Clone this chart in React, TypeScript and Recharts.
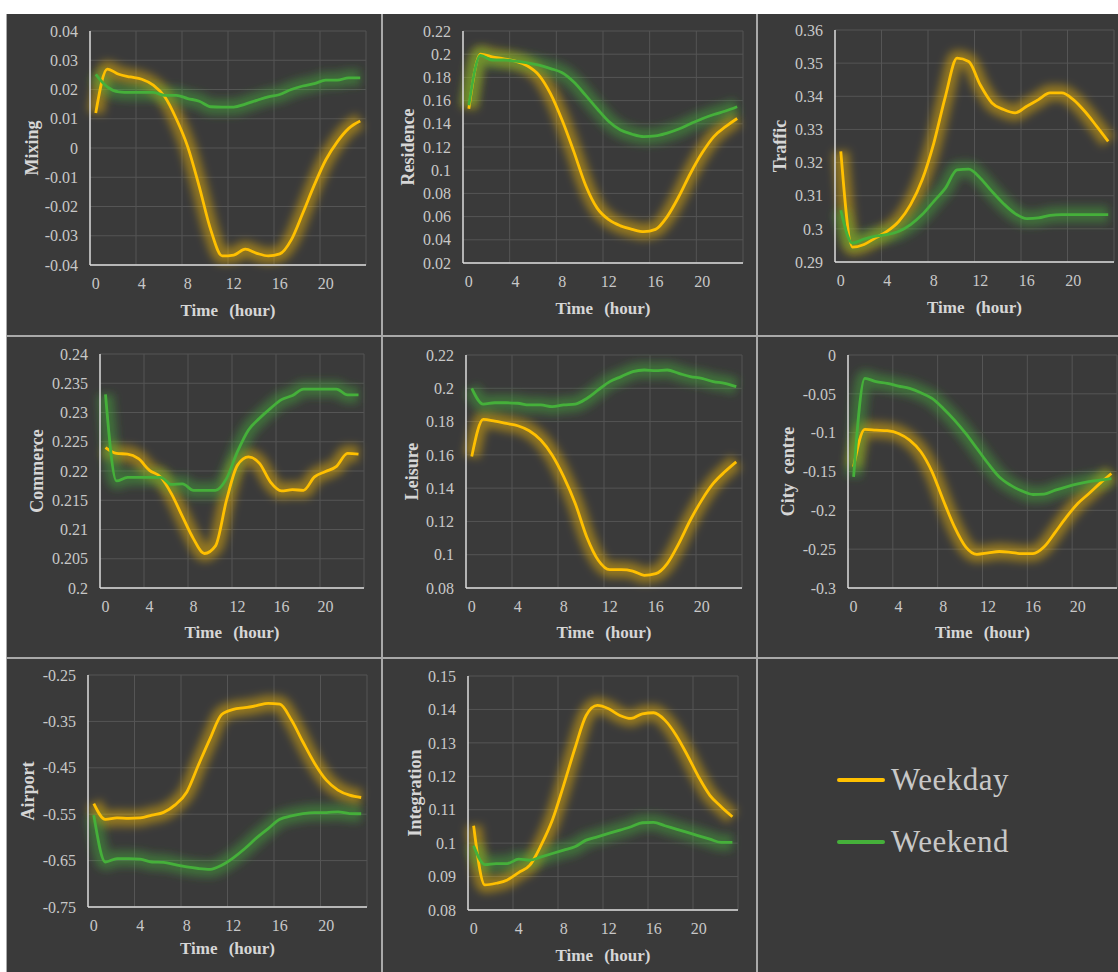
import { LineChart, Line, XAxis, YAxis, CartesianGrid } from 'recharts';

const hours = [0, 1, 2, 3, 4, 5, 6, 7, 8, 9, 10, 11, 12, 13, 14, 15, 16, 17, 18, 19, 20, 21, 22, 23];
const xTicks = [0, 4, 8, 12, 16, 20];
// category boundaries (Excel draws gridlines between categories)
const xGridBounds = [3.5, 7.5, 11.5, 15.5, 19.5, 23.5];

const mixingWeekday = [0.012, 0.027, 0.0252, 0.0243, 0.0235, 0.0215, 0.0175, 0.01, 0.0004, -0.0132, -0.028, -0.0369, -0.0366, -0.0346, -0.036, -0.0369, -0.0362, -0.0314, -0.0223, -0.0127, -0.0041, 0.0021, 0.0067, 0.0092];
const mixingWeekend = [0.0252, 0.0209, 0.0192, 0.019, 0.019, 0.019, 0.018, 0.018, 0.0169, 0.016, 0.0141, 0.014, 0.014, 0.015, 0.0163, 0.0175, 0.0183, 0.02, 0.0212, 0.022, 0.0232, 0.0232, 0.024, 0.024];
const mixingTicks = [-0.04, -0.03, -0.02, -0.01, 0, 0.01, 0.02, 0.03, 0.04];

const residenceWeekday = [0.153, 0.2, 0.1977, 0.196, 0.194, 0.19, 0.182, 0.166, 0.143, 0.116, 0.0873, 0.0673, 0.0573, 0.052, 0.049, 0.047, 0.049, 0.06, 0.0773, 0.0974, 0.115, 0.129, 0.1375, 0.1446];
const residenceWeekend = [0.156, 0.199, 0.195, 0.195, 0.194, 0.1925, 0.1905, 0.1876, 0.184, 0.176, 0.1647, 0.153, 0.142, 0.1346, 0.131, 0.129, 0.1295, 0.132, 0.1355, 0.14, 0.1444, 0.148, 0.151, 0.1547];
const residenceTicks = [0.02, 0.04, 0.06, 0.08, 0.1, 0.12, 0.14, 0.16, 0.18, 0.2, 0.22];

const trafficWeekday = [0.3234, 0.2945, 0.2953, 0.2973, 0.2993, 0.3023, 0.3073, 0.3148, 0.3259, 0.34, 0.3515, 0.3505, 0.3434, 0.338, 0.336, 0.335, 0.337, 0.339, 0.341, 0.341, 0.339, 0.3354, 0.331, 0.3264];
const trafficWeekend = [0.3056, 0.2957, 0.2969, 0.2978, 0.2983, 0.2993, 0.3013, 0.3043, 0.3083, 0.3123, 0.3178, 0.318, 0.3153, 0.3113, 0.3076, 0.3046, 0.3031, 0.3033, 0.3041, 0.3043, 0.3043, 0.3043, 0.3043, 0.3043];
const trafficTicks = [0.29, 0.3, 0.31, 0.32, 0.33, 0.34, 0.35, 0.36];

const commerceWeekday = [0.224, 0.223, 0.2229, 0.2221, 0.2201, 0.219, 0.2161, 0.2122, 0.2084, 0.2059, 0.2072, 0.215, 0.221, 0.2224, 0.2213, 0.2181, 0.2166, 0.2168, 0.2167, 0.219, 0.2199, 0.2208, 0.223, 0.2229];
const commerceWeekend = [0.2331, 0.2183, 0.2189, 0.2189, 0.2189, 0.2189, 0.2177, 0.2178, 0.2167, 0.2167, 0.2167, 0.2187, 0.2233, 0.227, 0.229, 0.2307, 0.2322, 0.2329, 0.234, 0.234, 0.234, 0.234, 0.233, 0.233];
const commerceTicks = [0.2, 0.205, 0.21, 0.215, 0.22, 0.225, 0.23, 0.235, 0.24];

const leisureWeekday = [0.159, 0.1813, 0.1803, 0.1789, 0.1775, 0.1745, 0.1689, 0.1598, 0.1468, 0.1308, 0.1107, 0.0967, 0.091, 0.091, 0.0902, 0.0876, 0.0886, 0.0947, 0.1067, 0.1207, 0.1328, 0.1428, 0.1498, 0.1558];
const leisureWeekend = [0.2, 0.1905, 0.1913, 0.1913, 0.191, 0.19, 0.19, 0.189, 0.19, 0.1905, 0.1939, 0.199, 0.204, 0.207, 0.21, 0.211, 0.2106, 0.211, 0.209, 0.207, 0.206, 0.204, 0.203, 0.201];
const leisureTicks = [0.08, 0.1, 0.12, 0.14, 0.16, 0.18, 0.2, 0.22];

const cityWeekday = [-0.144, -0.0958, -0.0967, -0.0975, -0.101, -0.1096, -0.1246, -0.1504, -0.187, -0.2213, -0.247, -0.2566, -0.2548, -0.253, -0.254, -0.2557, -0.2557, -0.247, -0.228, -0.2084, -0.1912, -0.1783, -0.165, -0.1526];
const cityWeekend = [-0.157, -0.03, -0.0344, -0.0365, -0.04, -0.043, -0.0486, -0.0559, -0.0688, -0.0838, -0.101, -0.1203, -0.1397, -0.157, -0.1676, -0.175, -0.1796, -0.179, -0.174, -0.1697, -0.166, -0.163, -0.161, -0.159];
const cityTicks = [-0.3, -0.25, -0.2, -0.15, -0.1, -0.05, 0];

const airportWeekday = [-0.527, -0.561, -0.558, -0.559, -0.558, -0.552, -0.546, -0.53, -0.502, -0.444, -0.387, -0.335, -0.324, -0.3205, -0.316, -0.311, -0.313, -0.347, -0.395, -0.4406, -0.4766, -0.498, -0.509, -0.514];
const airportWeekend = [-0.552, -0.653, -0.6457, -0.6457, -0.647, -0.653, -0.654, -0.6586, -0.6637, -0.667, -0.6687, -0.66, -0.644, -0.624, -0.601, -0.581, -0.561, -0.5536, -0.5486, -0.5464, -0.5464, -0.545, -0.5486, -0.549];
const airportTicks = [-0.75, -0.65, -0.55, -0.45, -0.35, -0.25];

const integrationWeekday = [0.1052, 0.0875, 0.088, 0.089, 0.0912, 0.0934, 0.0994, 0.1069, 0.1173, 0.1283, 0.1382, 0.1412, 0.1402, 0.1382, 0.1373, 0.1387, 0.139, 0.1368, 0.1323, 0.1263, 0.1198, 0.1143, 0.1109, 0.1079];
const integrationWeekend = [0.0992, 0.0936, 0.0939, 0.0939, 0.0952, 0.0949, 0.0959, 0.0969, 0.0979, 0.0989, 0.1009, 0.1019, 0.1029, 0.1039, 0.1049, 0.1061, 0.1062, 0.1052, 0.1042, 0.1032, 0.1022, 0.1012, 0.1002, 0.1002];
const integrationTicks = [0.08, 0.09, 0.1, 0.11, 0.12, 0.13, 0.14, 0.15];

const seriesNames = ['Weekday', 'Weekend'];

const YELLOW = '#ffc000';
const GREEN = '#45b03a';
const BG = '#3a3a3a';
const FONT = '"Liberation Serif", "Times New Roman", serif';
const TICK_COLOR = '#c8c8c8';
const TITLE_COLOR = '#d6d6d6';

interface PanelCfg {
  title: string;
  weekday: number[];
  weekend: number[];
  yTicks: number[];
  box: { x: number; y: number; w: number; h: number };
  plot: { l: number; t: number; r: number; b: number };
  yTitleX: number;
  xTitleDy: number;
}

const panels: PanelCfg[] = [
  { title: 'Mixing', weekday: mixingWeekday, weekend: mixingWeekend, yTicks: mixingTicks,
    box: { x: 7, y: 14, w: 374, h: 321 }, plot: { l: 90, t: 31, r: 366, b: 265 }, yTitleX: 25, xTitleDy: 45 },
  { title: 'Residence', weekday: residenceWeekday, weekend: residenceWeekend, yTicks: residenceTicks,
    box: { x: 383, y: 14, w: 373, h: 321 }, plot: { l: 463, t: 31, r: 743, b: 263 }, yTitleX: 25, xTitleDy: 45 },
  { title: 'Traffic', weekday: trafficWeekday, weekend: trafficWeekend, yTicks: trafficTicks,
    box: { x: 758, y: 14, w: 360, h: 321 }, plot: { l: 835, t: 30, r: 1114, b: 262 }, yTitleX: 22, xTitleDy: 45 },
  { title: 'Commerce', weekday: commerceWeekday, weekend: commerceWeekend, yTicks: commerceTicks,
    box: { x: 7, y: 337, w: 374, h: 320 }, plot: { l: 100, t: 354, r: 364, b: 588 }, yTitleX: 30, xTitleDy: 44 },
  { title: 'Leisure', weekday: leisureWeekday, weekend: leisureWeekend, yTicks: leisureTicks,
    box: { x: 383, y: 337, w: 373, h: 320 }, plot: { l: 466, t: 355, r: 742, b: 588 }, yTitleX: 29, xTitleDy: 44 },
  { title: 'City  centre', weekday: cityWeekday, weekend: cityWeekend, yTicks: cityTicks,
    box: { x: 758, y: 337, w: 360, h: 320 }, plot: { l: 848, t: 355, r: 1117, b: 588 }, yTitleX: 30, xTitleDy: 44 },
  { title: 'Airport', weekday: airportWeekday, weekend: airportWeekend, yTicks: airportTicks,
    box: { x: 7, y: 659, w: 374, h: 313 }, plot: { l: 88, t: 675, r: 367, b: 907 }, yTitleX: 21, xTitleDy: 41 },
  { title: 'Integration', weekday: integrationWeekday, weekend: integrationWeekend, yTicks: integrationTicks,
    box: { x: 383, y: 659, w: 373, h: 313 }, plot: { l: 468, t: 676, r: 738, b: 910 }, yTitleX: 32, xTitleDy: 45 },
];

const fmt = (v: number) => {
  const s = String(Number(v.toFixed(4)));
  return s === '-0' ? '0' : s;
};

const X_AXIS_H = 55;

function Panel({ cfg }: { cfg: PanelCfg }) {
  const { box, plot } = cfg;
  const data = hours.map((hour, i) => ({ hour, weekday: cfg.weekday[i], weekend: cfg.weekend[i] }));
  const margin = {
    top: plot.t - box.y,
    right: box.x + box.w - plot.r,
    left: 0,
    bottom: box.y + box.h - plot.b - X_AXIS_H,
  };
  const yMin = cfg.yTicks[0];
  const yMax = cfg.yTicks[cfg.yTicks.length - 1];

  return (
    <div style={{ position: 'absolute', left: box.x, top: box.y, width: box.w, height: box.h, background: BG }}>
      <LineChart width={box.w} height={box.h} data={data} margin={margin}>
        <CartesianGrid
          stroke="#555555"
          strokeWidth={1}
          verticalCoordinatesGenerator={(props: any) => {
            const s = props?.xAxis?.scale;
            if (typeof s === 'function') return xGridBounds.map((v) => s(v));
            const o = props.offset;
            return xGridBounds.map((v) => o.left + ((v + 0.5) / 24) * o.width);
          }}
        />
        <XAxis
          dataKey="hour"
          type="number"
          domain={[-0.5, 23.5]}
          ticks={xTicks}
          interval={0}
          height={X_AXIS_H}
          axisLine={{ stroke: '#dcdcdc', strokeWidth: 1.5 }}
          tickLine={false}
          tickSize={0}
          tickMargin={13}
          tick={{ fill: TICK_COLOR, fontSize: 16, fontFamily: FONT }}
          label={{
            content: (p: any) => {
              const vb = p.viewBox || {};
              return (
                <text
                  x={vb.x + vb.width / 2}
                  y={vb.y + cfg.xTitleDy}
                  textAnchor="middle"
                  dominantBaseline="central"
                  fill={TITLE_COLOR}
                  fontFamily={FONT}
                  fontWeight="bold"
                  fontSize={17}
                  style={{ wordSpacing: '7px' }}
                >
                  Time (hour)
                </text>
              );
            },
          }}
        />
        <YAxis
          type="number"
          domain={[yMin, yMax]}
          ticks={cfg.yTicks}
          interval={0}
          width={plot.l - box.x}
          axisLine={{ stroke: '#dcdcdc', strokeWidth: 1.5 }}
          tickLine={false}
          tickSize={0}
          tickMargin={12}
          tickFormatter={fmt}
          tick={{ fill: TICK_COLOR, fontSize: 16, fontFamily: FONT }}
          label={{
            content: (p: any) => {
              const vb = p.viewBox || {};
              const cx = vb.x + cfg.yTitleX;
              const cy = vb.y + vb.height / 2;
              return (
                <text
                  x={cx}
                  y={cy}
                  transform={`rotate(-90 ${cx} ${cy})`}
                  textAnchor="middle"
                  dominantBaseline="central"
                  fill={TITLE_COLOR}
                  fontFamily={FONT}
                  fontWeight="bold"
                  fontSize={18}
                  style={{ whiteSpace: 'pre' }}
                >
                  {cfg.title}
                </text>
              );
            },
          }}
        />
        <Line className="glow" type="monotone" dataKey="weekday" stroke={YELLOW} strokeWidth={16} strokeOpacity={0.45} dot={false} activeDot={false} isAnimationActive={false} />
        <Line className="glow" type="monotone" dataKey="weekend" stroke={GREEN} strokeWidth={16} strokeOpacity={0.45} dot={false} activeDot={false} isAnimationActive={false} />
        <Line type="monotone" dataKey="weekday" name={seriesNames[0]} stroke={YELLOW} strokeWidth={2.8} dot={false} activeDot={false} isAnimationActive={false} />
        <Line type="monotone" dataKey="weekend" name={seriesNames[1]} stroke={GREEN} strokeWidth={2.8} dot={false} activeDot={false} isAnimationActive={false} />
      </LineChart>
    </div>
  );
}

function LegendPanel() {
  const items = [
    { name: seriesNames[0], color: YELLOW, top: 103 },
    { name: seriesNames[1], color: GREEN, top: 165 },
  ];
  return (
    <div style={{ position: 'absolute', left: 758, top: 659, width: 360, height: 313, background: BG }}>
      {items.map((it) => (
        <div key={it.name} style={{ position: 'absolute', left: 79, top: it.top, height: 36, display: 'flex', alignItems: 'center' }}>
          <div style={{ width: 48, height: 4, borderRadius: 2, background: it.color }} />
          <span style={{ marginLeft: 6, fontFamily: FONT, fontSize: 31, color: TICK_COLOR, lineHeight: '36px', letterSpacing: '0.5px' }}>
            {it.name}
          </span>
        </div>
      ))}
    </div>
  );
}

export default function App() {
  return (
    <div style={{ position: 'absolute', left: 0, top: 0, width: 1118, height: 972, background: '#ffffff', overflow: 'hidden' }}>
      <style>{`.glow path { filter: url(#glowBlur); }`}</style>
      <svg width={0} height={0} style={{ position: 'absolute' }}>
        <defs>
          <filter id="glowBlur" filterUnits="userSpaceOnUse" x={-200} y={-200} width={2000} height={2000}>
            <feGaussianBlur stdDeviation={4.5} />
          </filter>
        </defs>
      </svg>
      <div style={{ position: 'absolute', left: 6, top: 14, width: 1112, height: 958, background: '#a9a9a9' }} />
      {panels.map((p) => (
        <Panel key={p.title} cfg={p} />
      ))}
      <LegendPanel />
    </div>
  );
}
